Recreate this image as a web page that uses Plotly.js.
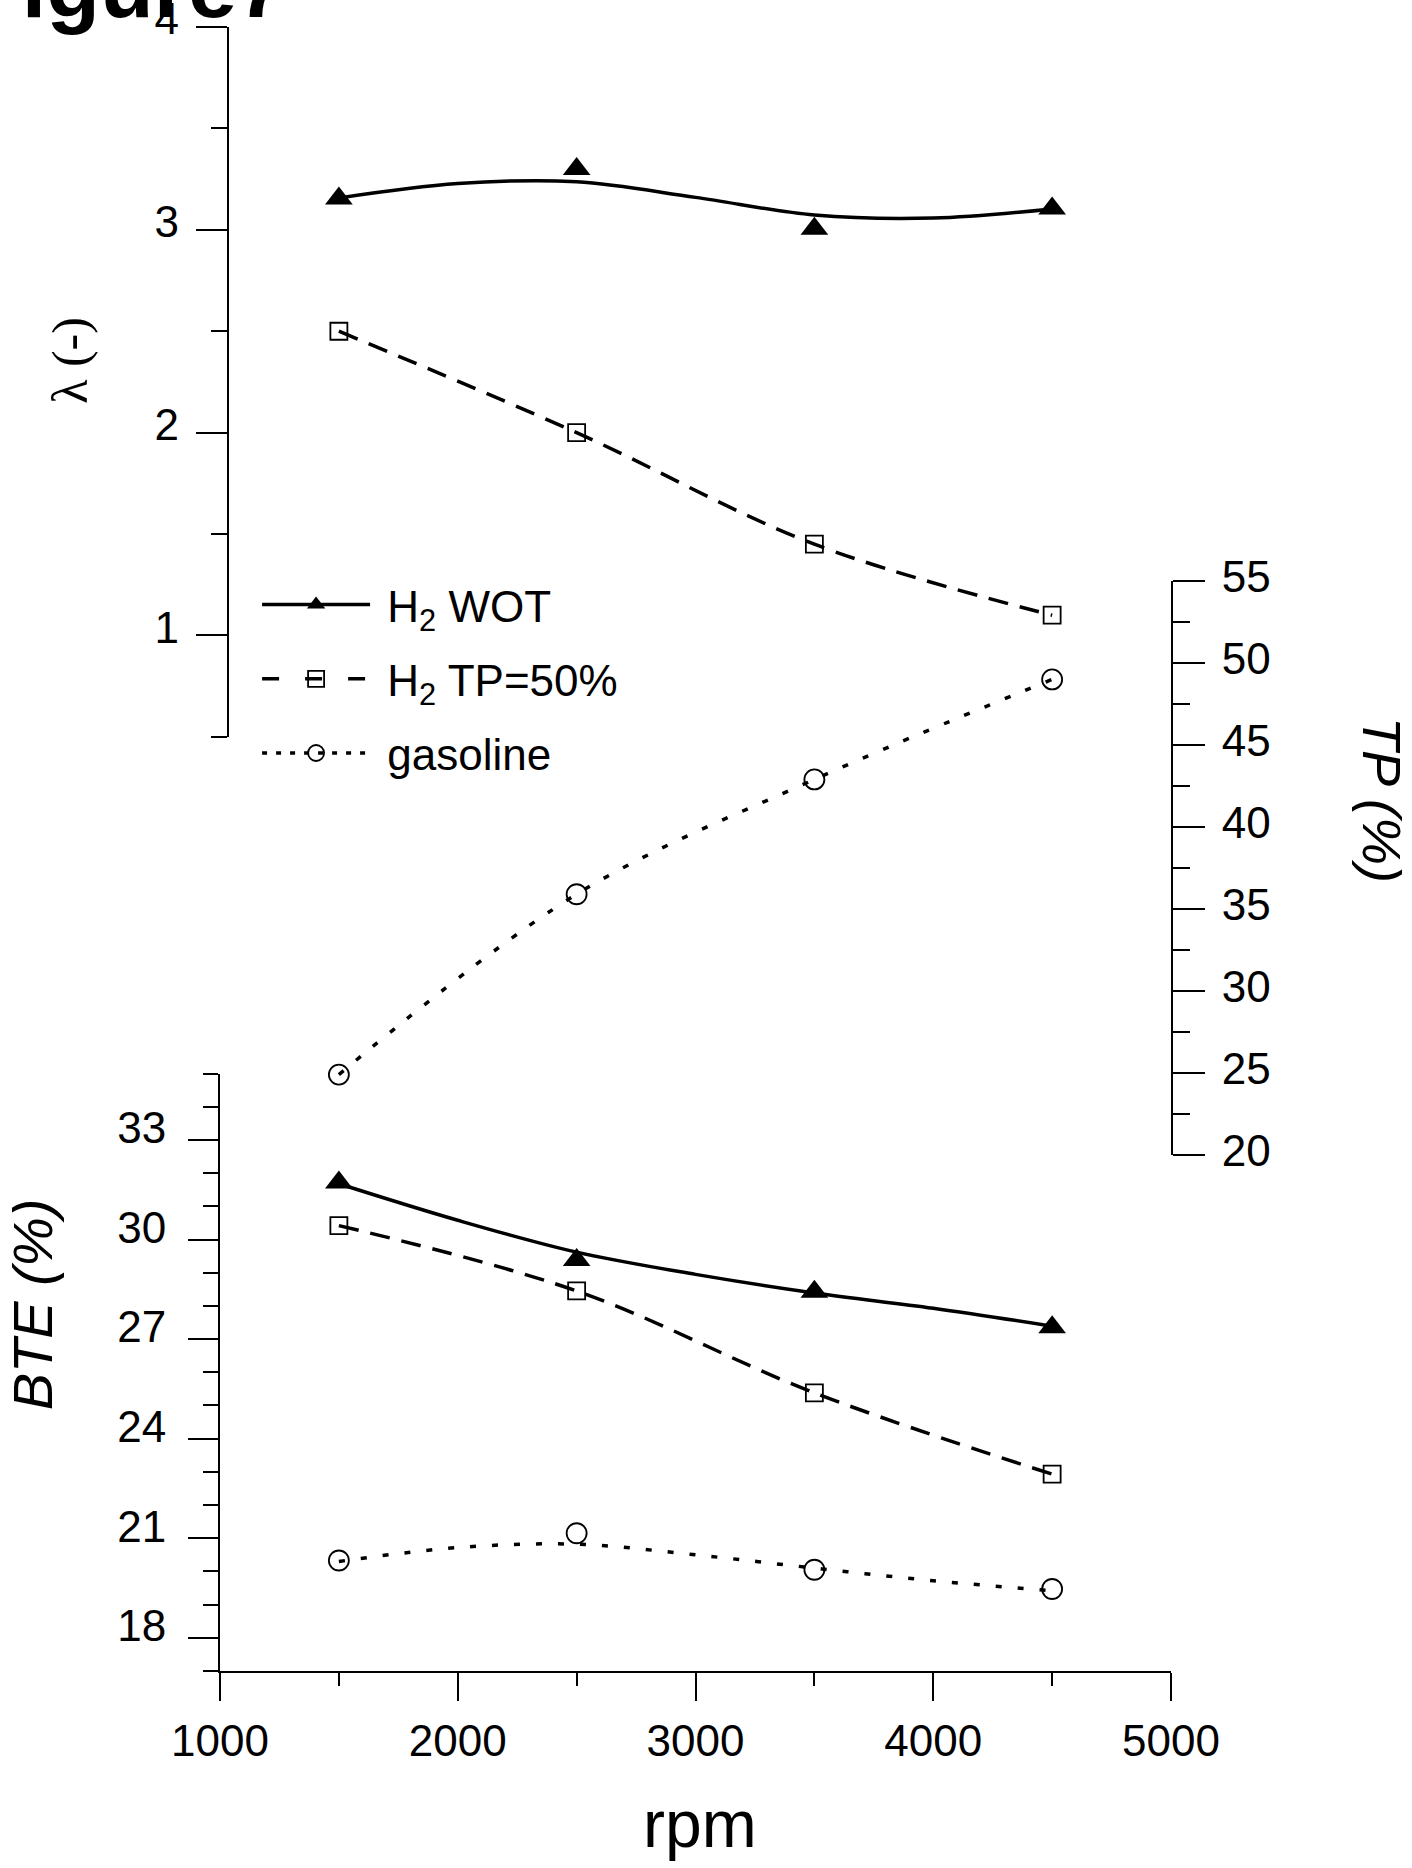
<!DOCTYPE html>
<html>
<head>
<meta charset="utf-8">
<script src="https://cdn.plot.ly/plotly-3.0.1.min.js"></script>
<style>html,body{margin:0;padding:0;background:#fff;}</style>
</head>
<body>
<div id="chart" style="width:1412px;height:1868px;"></div>
<script>
// ---- data ----
var rpm = [1500, 2500, 3500, 4500];
var rpmFit = [1500, 2000, 2500, 3000, 3500, 4000, 4500];

var lambdaWOT = [3.155, 3.30, 3.005, 3.105];
var lambdaWOTFit = [3.157, 3.228, 3.237, 3.16, 3.073, 3.058, 3.103];
var lambdaTP50 = [2.50, 2.00, 1.45, 1.10];

var tpGasoline = [24.9, 35.9, 42.9, 49.0];

var bteWOT = [31.72, 29.38, 28.43, 27.36];
var bteWOTFit = [31.68, 30.58, 29.62, 28.95, 28.39, 27.93, 27.39];
var bteTP50 = [30.42, 28.45, 25.38, 22.93];
var bteGasoline = [20.33, 21.15, 20.05, 19.47];
var bteGasolineFit = [20.3, 20.72, 20.82, 20.5, 20.1, 19.72, 19.42];

var seriesNames = ['\u00a0H<sub>2</sub> WOT', '\u00a0H<sub>2</sub> TP=50%', '\u00a0gasoline'];

// ---- styles ----
var FONT = 'Arial, "Liberation Sans", sans-serif';
var solidLine = {color: '#000', width: 3.5, shape: 'spline'};
var dashLine = {color: '#000', width: 3.5, dash: '20px,12px', shape: 'spline'};
var dotLine = {color: '#000', width: 3.5, dash: '6px,16px', shape: 'spline'};
var triMarker = {symbol: 'triangle-up', size: 24, color: '#000'};
var sqMarker = {symbol: 'square-open', size: 17, color: '#000', line: {width: 1.8, color: '#000'}};
var circMarker = {symbol: 'circle-open', size: 20, color: '#000', line: {width: 1.8, color: '#000'}};

var traces = [
  // lambda panel
  {x: rpmFit, y: lambdaWOTFit, yaxis: 'y2', mode: 'lines', line: solidLine, showlegend: false, hoverinfo: 'skip'},
  {x: rpm, y: lambdaWOT, yaxis: 'y2', mode: 'markers', marker: triMarker, showlegend: false, cliponaxis: false},
  {x: rpm, y: lambdaTP50, yaxis: 'y2', mode: 'lines+markers', line: dashLine, marker: sqMarker, showlegend: false, cliponaxis: false},
  // throttle position
  {x: rpm, y: tpGasoline, yaxis: 'y3', mode: 'lines+markers', line: dotLine, marker: circMarker, showlegend: false, cliponaxis: false},
  // BTE panel
  {x: rpmFit, y: bteWOTFit, yaxis: 'y', mode: 'lines', line: solidLine, showlegend: false, hoverinfo: 'skip'},
  {x: rpm, y: bteWOT, yaxis: 'y', mode: 'markers', marker: triMarker, showlegend: false, cliponaxis: false},
  {x: rpm, y: bteTP50, yaxis: 'y', mode: 'lines+markers', line: dashLine, marker: sqMarker, showlegend: false, cliponaxis: false},
  {x: rpmFit, y: bteGasolineFit, yaxis: 'y', mode: 'lines', line: dotLine, showlegend: false, hoverinfo: 'skip'},
  {x: rpm, y: bteGasoline, yaxis: 'y', mode: 'markers', marker: circMarker, showlegend: false, cliponaxis: false},
  // legend entries
  {x: [null], y: [null], yaxis: 'y2', mode: 'lines+markers', name: seriesNames[0], line: {color: '#000', width: 3.5}, marker: triMarker, legendgroup: 'a'},
  {x: [null], y: [null], yaxis: 'y2', mode: 'lines+markers', name: seriesNames[1], line: {color: '#000', width: 3.5, dash: '17px,26px'}, marker: sqMarker, legendgroup: 'b'},
  {x: [null], y: [null], yaxis: 'y2', mode: 'lines+markers', name: seriesNames[2], line: {color: '#000', width: 3.5, dash: '5px,9px'}, marker: circMarker, legendgroup: 'c'}
];

var axisCommon = {
  showline: true, linecolor: '#000', linewidth: 2,
  ticks: 'outside', tickcolor: '#000', tickwidth: 2,
  showgrid: false, zeroline: false, ticklabeloverflow: 'allow',
  tickfont: {family: FONT, size: 44, color: '#000'}
};

var layout = {
  width: 1412, height: 1868,
  margin: {l: 220, r: 241, t: 27, b: 197, pad: 0},
  paper_bgcolor: '#fff', plot_bgcolor: 'rgba(0,0,0,0)',
  font: {family: FONT, size: 44, color: '#000'},
  showlegend: true,
  legend: {
    x: 0.039, y: 0.670, xanchor: 'left', yanchor: 'top',
    bgcolor: 'rgba(0,0,0,0)', borderwidth: 0,
    font: {family: FONT, size: 44, color: '#000'},
    itemwidth: 108, traceorder: 'grouped', tracegroupgap: 14,
    itemclick: false, itemdoubleclick: false
  },
  xaxis: Object.assign({}, axisCommon, {
    domain: [0, 1], range: [1000, 5000], anchor: 'y',
    tick0: 1000, dtick: 1000, ticklen: 28,
    minor: {dtick: 500, ticklen: 13, tickwidth: 2, tickcolor: '#000', ticks: 'outside', showgrid: false},
    ticklabelstandoff: 2
  }),
  yaxis: Object.assign({}, axisCommon, {
    domain: [0, 0.3634], range: [17, 35], anchor: 'x', side: 'left',
    tick0: 18, dtick: 3, ticklen: 30,
    minor: {tick0: 17, dtick: 1, ticklen: 15, tickwidth: 2, tickcolor: '#000', ticks: 'outside', showgrid: false},
    ticklabelstandoff: 13, ticklabelshift: -12
  }),
  yaxis2: Object.assign({}, axisCommon, {
    domain: [0.5682, 1], range: [0.5, 4], anchor: 'free', position: 0.0081, side: 'left',
    tick0: 0, dtick: 1, ticklen: 31,
    minor: {tick0: 0, dtick: 0.5, ticklen: 16, tickwidth: 2, tickcolor: '#000', ticks: 'outside', showgrid: false},
    ticklabelstandoff: 8, ticklabelshift: -8
  }),
  yaxis3: Object.assign({}, axisCommon, {
    domain: [0.3139, 0.6630], range: [20, 55], anchor: 'x', side: 'right',
    tick0: 20, dtick: 5, ticklen: 32,
    minor: {tick0: 20, dtick: 2.5, ticklen: 17, tickwidth: 2, tickcolor: '#000', ticks: 'outside', showgrid: false},
    ticklabelstandoff: 8, ticklabelshift: -4
  }),
  annotations: [
    {text: '<b>Figure7</b>', xref: 'paper', yref: 'paper', x: -0.267, y: 0.9935,
     xanchor: 'left', yanchor: 'bottom', showarrow: false,
     font: {family: FONT, size: 88, color: '#000'}},
    {text: 'λ (-)', xref: 'paper', yref: 'paper', x: -0.158, y: 0.7974,
     xanchor: 'center', yanchor: 'middle', textangle: -90, showarrow: false,
     font: {family: '"Liberation Serif", "Times New Roman", serif', size: 50, color: '#000'}},
    {text: '<i>BTE (%)</i>', xref: 'paper', yref: 'paper', x: -0.1975, y: 0.2232,
     xanchor: 'center', yanchor: 'middle', textangle: -90, showarrow: false,
     font: {family: FONT, size: 56, color: '#000'}},
    {text: '<i>TP (%)</i>', xref: 'paper', yref: 'paper', x: 1.2219, y: 0.5298,
     xanchor: 'center', yanchor: 'middle', textangle: 90, showarrow: false,
     font: {family: FONT, size: 54, color: '#000'}},
    {text: 'rpm', xref: 'paper', yref: 'paper', x: 0.5047, y: -0.117,
     xanchor: 'center', yanchor: 'bottom', showarrow: false,
     font: {family: FONT, size: 66, color: '#000'}}
  ]
};

Plotly.newPlot('chart', traces, layout, {staticPlot: true, displayModeBar: false});
</script>
</body>
</html>
